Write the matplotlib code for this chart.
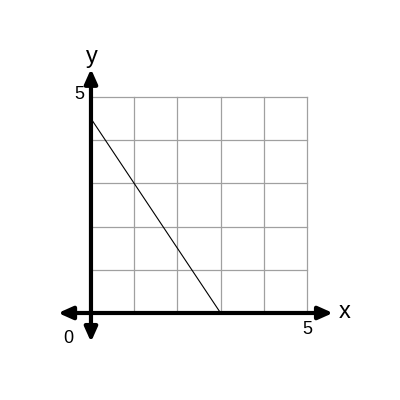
import matplotlib
matplotlib.use("Agg")
import matplotlib.pyplot as plt

plt.rcParams['font.family'] = ['Liberation Sans', 'DejaVu Sans']

# grid range and the plotted line
grid_ticks = [0, 1, 2, 3, 4, 5]
line_x = [0, 3]
line_y = [4.5, 0]
x_axis_ends = [-0.76, 5.6]
y_axis_ends = [-0.67, 5.65]

fig = plt.figure(figsize=(4, 4), dpi=100)
ax = fig.add_axes([0, 0, 1, 1])
ax.set_xlim(-2.106, 7.153)
ax.set_ylim(-2.014, 7.245)
ax.axis("off")

# grid
for t in grid_ticks:
    ax.plot([t, t], [0, 5], color="#a0a0a0", lw=0.9, zorder=1)
    ax.plot([0, 5], [t, t], color="#a0a0a0", lw=0.9, zorder=1)

# the line
ax.plot(line_x, line_y, color="black", lw=0.8, zorder=2)

# axes with arrows
style = "<|-|>,head_length=0.85,head_width=0.38"
ax.annotate("", xy=(x_axis_ends[1], 0), xytext=(x_axis_ends[0], 0),
            arrowprops=dict(arrowstyle=style, color="black", lw=3,
                            shrinkA=0, shrinkB=0), zorder=3)
ax.annotate("", xy=(0, y_axis_ends[1]), xytext=(0, y_axis_ends[0]),
            arrowprops=dict(arrowstyle=style, color="black", lw=3,
                            shrinkA=0, shrinkB=0), zorder=3)

# labels
ax.text(5.87, 0.02, "x", fontsize=17, ha="center", va="center")
ax.text(0.02, 5.92, "y", fontsize=17, ha="center", va="center")
ax.text(-0.27, 5.05, "5", fontsize=13, ha="center", va="center")
ax.text(5.0, -0.38, "5", fontsize=13, ha="center", va="center")
ax.text(-0.53, -0.58, "0", fontsize=13, ha="center", va="center")

fig.savefig("out.png", dpi=100)
